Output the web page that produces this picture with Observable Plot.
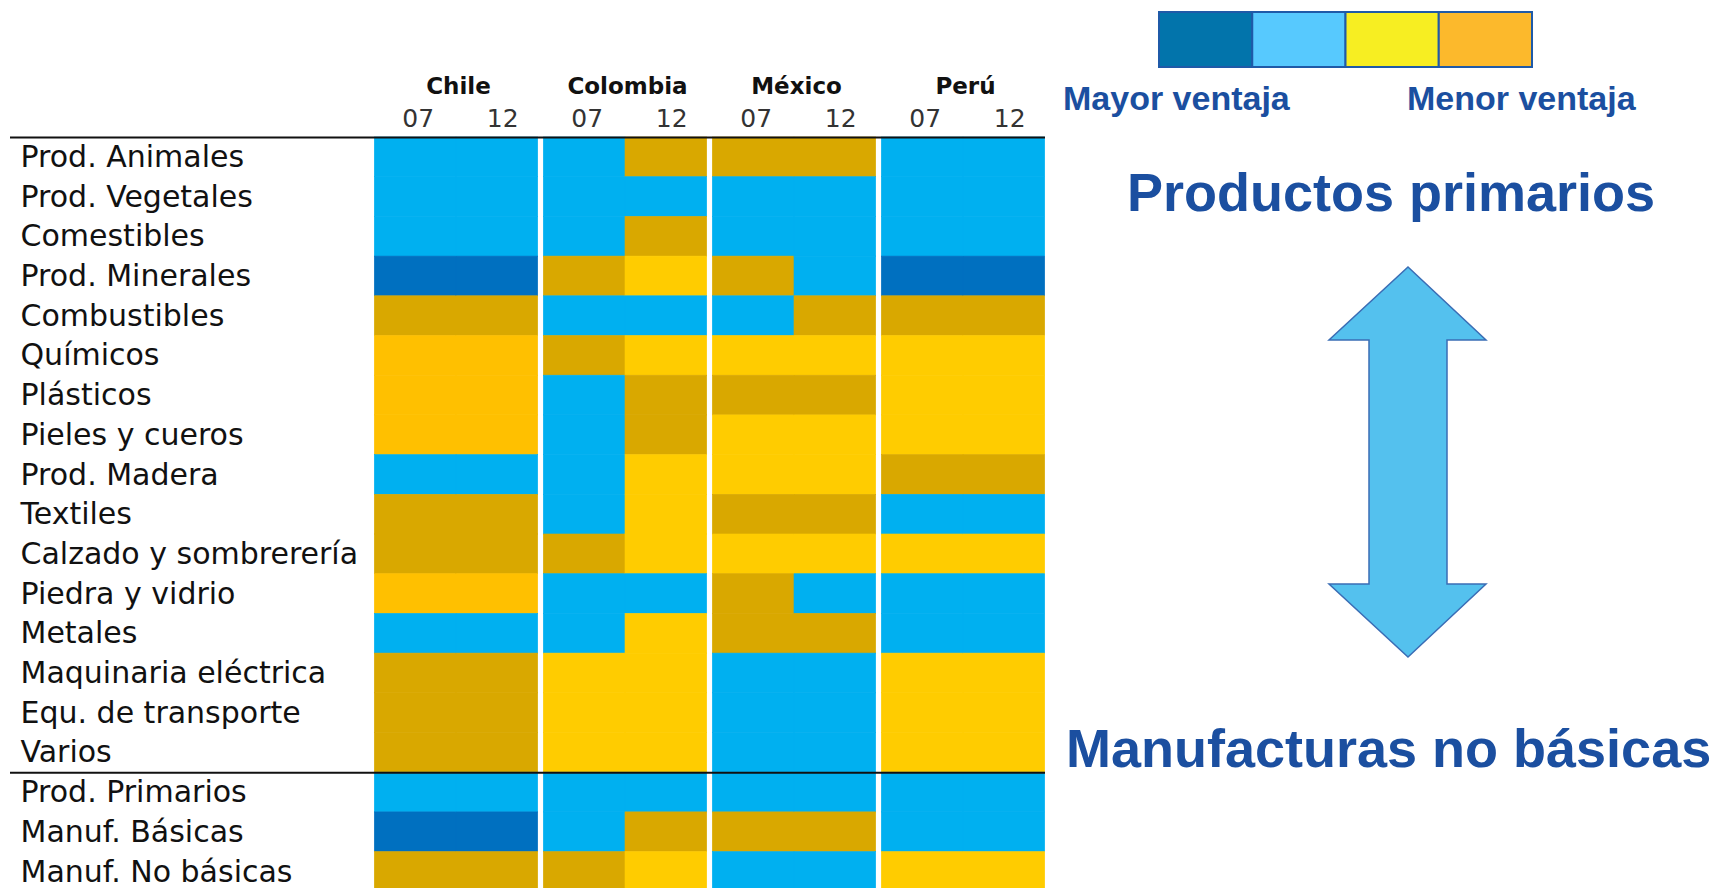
<!DOCTYPE html>
<html>
<head>
<meta charset="utf-8">
<script src="https://cdn.jsdelivr.net/npm/d3@7"></script>
<script src="https://cdn.jsdelivr.net/npm/@observablehq/plot@0.6"></script>
<style>
html,body{margin:0;padding:0;overflow:hidden;background:#fff;width:1716px;height:888px}
#wrap{position:relative;width:1716px;height:888px}
#wrap > *{position:absolute}
</style>
</head>
<body>
<div id="wrap"></div>
<script>
// ---- data ----
const products = [
  "Prod. Animales", "Prod. Vegetales", "Comestibles", "Prod. Minerales", "Combustibles",
  "Químicos", "Plásticos", "Pieles y cueros", "Prod. Madera", "Textiles",
  "Calzado y sombrerería", "Piedra y vidrio", "Metales", "Maquinaria eléctrica",
  "Equ. de transporte", "Varios", "Prod. Primarios", "Manuf. Básicas", "Manuf. No básicas"
];
const countries = ["Chile", "Colombia", "México", "Perú"];
const years = ["07", "12"];
// level: 1 = mayor ventaja ... 4 = menor ventaja
const chile07    = [2,2,2,1,4,3,3,3,2,4,4,3,2,4,4,4,2,1,4];
const chile12    = [2,2,2,1,4,3,3,3,2,4,4,3,2,4,4,4,2,1,4];
const colombia07 = [2,2,2,4,2,4,2,2,2,2,4,2,2,3,3,3,2,2,4];
const colombia12 = [4,2,4,3,2,3,4,4,3,3,3,2,3,3,3,3,2,4,3];
const mexico07   = [4,2,2,4,2,3,4,3,3,4,3,4,4,2,2,2,2,4,2];
const mexico12   = [4,2,2,2,4,3,4,3,3,4,3,2,4,2,2,2,2,4,2];
const peru07     = [2,2,2,1,4,3,3,3,4,2,3,2,2,3,3,3,2,2,3];
const peru12     = [2,2,2,1,4,3,3,3,4,2,3,2,2,3,3,3,2,2,3];
const series = [[chile07, chile12], [colombia07, colombia12], [mexico07, mexico12], [peru07, peru12]];

const levelColors = {1: "#0070C0", 2: "#00B0F0", 3: "#FFCC00", 4: "#D9A800"};
const chileYellow = "#FFC000";

const legendLevels = ["1", "2", "3", "4"];
const legendColors = ["#0274AB", "#57C9FE", "#F7EE22", "#FCB92C"];
const legendLabels = ["Mayor ventaja", "Menor ventaja"];
const sideLabels = ["Productos primarios", "Manufacturas no básicas"];

(function () {
  const cols = countries.flatMap(c => years.map(y => c + " " + y));
  const data = countries.flatMap((c, ci) =>
    years.flatMap((yr, yi) =>
      series[ci][yi].map((v, pi) => ({country: c, year: yr, col: c + " " + yr, product: products[pi], level: v}))
    )
  );
  const fillOf = d => (d.country === "Chile" && d.level === 3) ? chileYellow : levelColors[d.level];

  const rowH = 39.7;
  const topM = 137;
  const xr = [371.5, 1047.5];
  const bw = (xr[1] - xr[0]) / cols.length;

  const wrap = document.getElementById("wrap");

  const chart = Plot.plot({
    width: 1050,
    height: 892,
    marginLeft: 10, marginRight: 5, marginTop: topM, marginBottom: 0,
    style: {fontFamily: "'DejaVu Sans', Verdana, sans-serif", background: "transparent", overflow: "visible"},
    x: {type: "band", domain: cols, range: xr, padding: 0, round: false, axis: null},
    y: {type: "band", domain: products, range: [topM, topM + products.length * rowH], padding: 0, round: false, axis: null},
    color: {type: "identity"},
    marks: [
      Plot.cell(data.filter(d => d.year === "07"), {x: "col", y: "product", fill: fillOf, stroke: fillOf, strokeWidth: 0.6, insetLeft: 2.8}),
      Plot.cell(data.filter(d => d.year === "12"), {x: "col", y: "product", fill: fillOf, stroke: fillOf, strokeWidth: 0.6, insetRight: 2.8}),
      Plot.ruleY([products[0], "Prod. Primarios"], {y: d => d, dy: -rowH / 2, stroke: "#111", strokeWidth: 2}),
      Plot.text(products, {y: d => d, text: d => d, frameAnchor: "left", dx: 10, textAnchor: "start", fontSize: 30, fill: "#111"}),
      Plot.text(countries, {x: c => c + " 12", text: d => d, frameAnchor: "top", dx: -bw / 2 + 2, dy: -60, fontSize: 23, fontWeight: "bold", fill: "#111"}),
      Plot.text(cols, {x: d => d, text: d => d.split(" ")[1], frameAnchor: "top", dx: 4, dy: -28, fontSize: 25, fill: "#333"})
    ]
  });
  chart.style.left = "0px";
  chart.style.top = "0px";
  wrap.appendChild(chart);

  const legend = Plot.plot({
    width: 375, height: 57,
    margin: 1,
    x: {type: "band", domain: legendLevels, padding: 0, round: false, axis: null},
    color: {type: "identity"},
    style: {background: "transparent"},
    marks: [
      Plot.cell(legendLevels, {x: d => d, fill: (d, i) => legendColors[i], stroke: "#1F5AA8", strokeWidth: 2})
    ]
  });
  legend.style.left = "1158px";
  legend.style.top = "11px";
  wrap.appendChild(legend);

  const svg = d3.create("svg").attr("width", 1716).attr("height", 888)
    .style("left", "0px").style("top", "0px").style("pointer-events", "none");
  const blue = "#1B4FA0";
  const font = "'Liberation Sans', Arial, sans-serif";
  svg.append("text").attr("x", 1063).attr("y", 110).text(legendLabels[0])
    .attr("font-family", font).attr("font-weight", "bold").attr("font-size", 34).attr("fill", blue);
  svg.append("text").attr("x", 1407).attr("y", 110).text(legendLabels[1])
    .attr("font-family", font).attr("font-weight", "bold").attr("font-size", 34).attr("fill", blue);
  svg.append("text").attr("x", 1127).attr("y", 211).text(sideLabels[0])
    .attr("font-family", font).attr("font-weight", "bold").attr("font-size", 54).attr("fill", blue);
  svg.append("text").attr("x", 1066).attr("y", 767).text(sideLabels[1])
    .attr("font-family", font).attr("font-weight", "bold").attr("font-size", 54).attr("fill", blue);
  svg.append("path")
    .attr("d", "M1408,267 L1486,340 L1447,340 L1447,584 L1486,584 L1408,657 L1329,584 L1369,584 L1369,340 L1329,340 Z")
    .attr("fill", "#54C1EE").attr("stroke", "#3A6DB5").attr("stroke-width", 1.5);
  wrap.appendChild(svg.node());
})();
</script>
</body>
</html>
